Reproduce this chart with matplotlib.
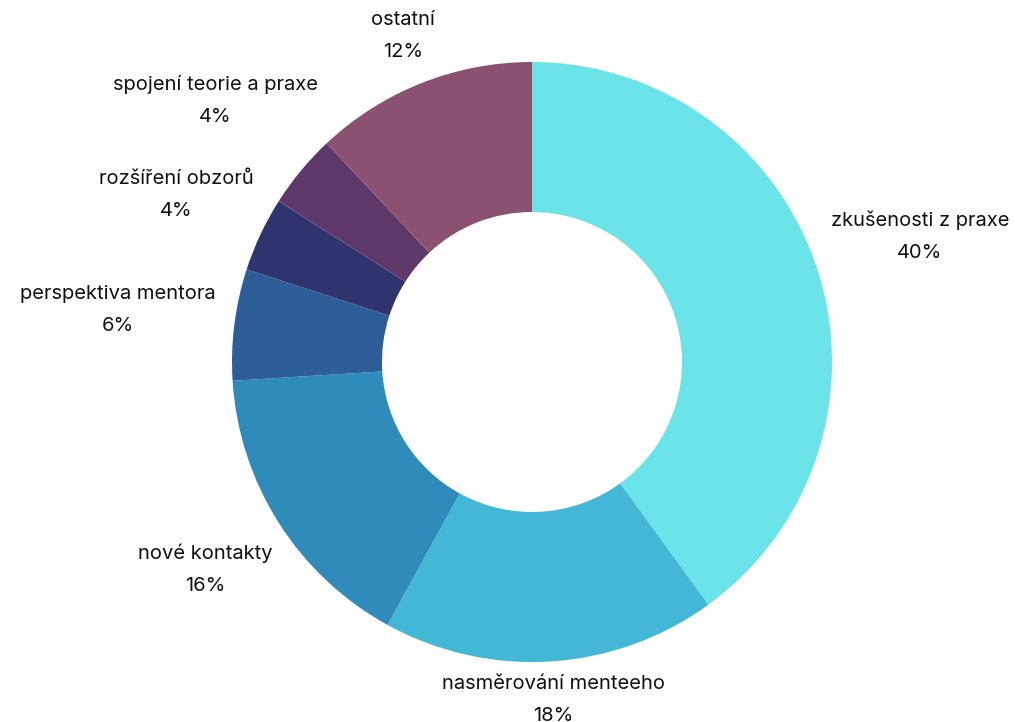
import numpy as np
import matplotlib
matplotlib.use('Agg')
import matplotlib.pyplot as plt

plt.rcParams['font.family'] = ['Inter', 'DejaVu Sans']

labels = ['zkušenosti z praxe', 'nasměrování menteeho', 'nové kontakty',
          'perspektiva mentora', 'rozšíření obzorů', 'spojení teorie a praxe', 'ostatní']
values = [40, 18, 16, 6, 4, 4, 12]
colors = ['#6AE4E8', '#42B7D6', '#2E8BBA', '#2D5E98', '#30346E', '#5E3868', '#8A5270']
# label distance from centre (radius units), tuned by eye
label_r = [1.36, 1.13, 1.29, 1.39, 1.31, 1.37, 1.17]

fig = plt.figure(figsize=(10.15, 7.22), dpi=100)
ax = fig.add_axes([0, 0, 1, 1])

wedges, _ = ax.pie(values, colors=colors, startangle=90, counterclock=False,
                   radius=1.0, wedgeprops=dict(width=0.5, linewidth=0))

# pie() resets limits, so set them afterwards (300 px per radius unit)
ax.set_xlim(-532 / 300, (1015 - 532) / 300)
ax.set_ylim(-(722 - 362) / 300, 362 / 300)
ax.set_aspect('equal')
ax.axis('off')

total = sum(values)
for w, lab, v, r in zip(wedges, labels, values, label_r):
    ang = np.deg2rad((w.theta1 + w.theta2) / 2)
    x, y = r * np.cos(ang), r * np.sin(ang)
    ax.text(x, y, f'{lab}\n{round(v / total * 100)}%', ha='center', va='center',
            fontsize=14.5, color='#111111', linespacing=2.0)

fig.savefig('out.png', dpi=100)
